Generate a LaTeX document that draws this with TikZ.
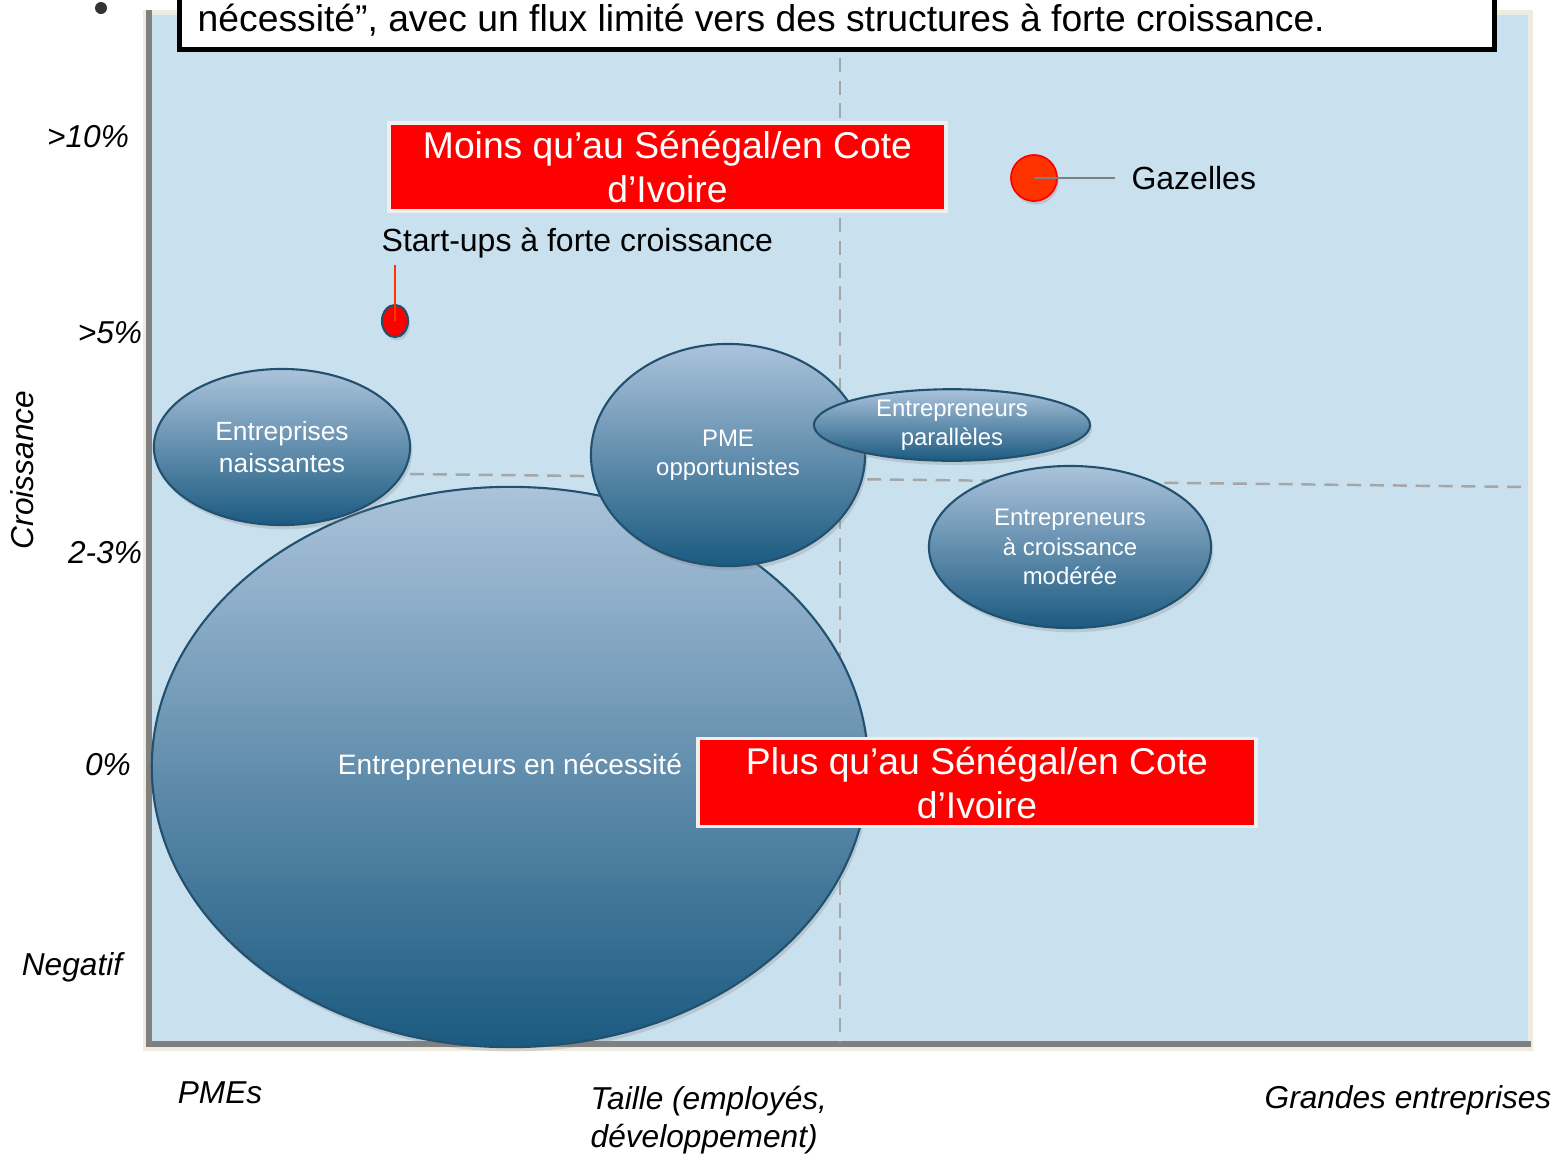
\documentclass[tikz,border=0pt]{standalone}
\usepackage{fontspec}
\setmainfont{Liberation Sans}
\usetikzlibrary{shapes.geometric,shadows,calc}
\definecolor{panelblue}{HTML}{C9E0EE}
\definecolor{panelrim}{HTML}{EEEBE0}
\definecolor{axisgray}{HTML}{808080}
\definecolor{guidegray}{HTML}{A6A6A6}
\definecolor{bubbletop}{HTML}{ABC3DB}
\definecolor{bubblebot}{HTML}{1B5A80}
\definecolor{bubbleedge}{HTML}{22506F}
\definecolor{boxrim}{HTML}{EFEFEF}
\definecolor{gazred}{HTML}{FF3300}
\tikzset{
  bubble/.style={ellipse, draw=bubbleedge, line width=0.6pt, top color=bubbletop,
    bottom color=bubblebot, text=white, align=center, inner sep=0pt,
    drop shadow={opacity=0.25, shadow xshift=0.6pt, shadow yshift=-1.2pt}},
  redbox/.style={rectangle, fill=red, draw=boxrim, line width=1.1pt, text=white,
    align=center, inner sep=0pt, minimum width=5.57cm, minimum height=0.88cm,
    font=\fontsize{10.6}{12.5}\selectfont},
  axislab/.style={font=\fontsize{9}{10.8}\selectfont\itshape},
  guide/.style={draw=guidegray, line width=0.7pt, dash pattern=on 4pt off 2.5pt}
}
\begin{document}
\begin{tikzpicture}[x=0.01cm, y=-0.01cm]
\useasboundingbox (0,0) rectangle (1557,1154);
% panel and axes
\fill[panelrim] (143,10) rectangle (1533,1051);
\fill[panelblue] (152,15) rectangle (1528,1041);
\fill[axisgray] (146,10) rectangle (152,1047);
\fill[axisgray] (146,1041) rectangle (1531,1047);
% quadrant guides
\draw[guide] (840,12) -- (840,1041);
\draw[guide] (410,474) -- (1528,487);
% bubbles
\node[bubble, minimum width=7.16cm, minimum height=5.6cm,
  font=\fontsize{8}{9.6}\selectfont] (nec) at (510,767) {Entrepreneurs en nécessité};
\node[bubble, minimum width=2.56cm, minimum height=1.56cm,
  font=\fontsize{7.5}{9.1}\selectfont] (nais) at (282,447) {Entreprises\\naissantes};
\node[bubble, minimum width=2.74cm, minimum height=2.22cm,
  font=\fontsize{6.8}{8.3}\selectfont] (pme) at (728,455) {PME\\opportunistes};
\node[bubble, minimum width=2.76cm, minimum height=0.66cm,
  font=\fontsize{6.8}{8.3}\selectfont] (para) at (952,425) {Entrepreneurs\\parallèles};
\node[bubble, minimum width=2.82cm, minimum height=1.62cm,
  font=\fontsize{6.8}{8.3}\selectfont] (mod) at (1070,547) {Entrepreneurs\\à croissance\\modérée};
% comparison boxes
\node[redbox] (moins) at (667.5,167) {Moins qu’au Sénégal/en Cote\\d’Ivoire};
\node[redbox] (plus) at (977,782.5) {Plus qu’au Sénégal/en Cote\\d’Ivoire};
% start-ups
\node[ellipse, fill=red, draw=bubbleedge, line width=0.6pt, inner sep=0pt,
  minimum width=0.26cm, minimum height=0.32cm,
  drop shadow={opacity=0.25, shadow xshift=0.5pt, shadow yshift=-1pt}] (sup) at (395,321) {};
\coordinate (suptop) at (395,265);
\draw[gazred, line width=0.6pt] (suptop) -- (sup.center);
\node[anchor=base west, inner sep=0pt, font=\fontsize{9.1}{11}\selectfont]
  (suplab) at (381,251) {Start-ups à forte croissance};
% gazelles
\node[circle, fill=gazred, draw=red, line width=0.5pt, inner sep=0pt, minimum size=0.46cm,
  drop shadow={opacity=0.25, shadow xshift=0.5pt, shadow yshift=-1pt}] (gaz) at (1034,178) {};
\node[anchor=west, inner xsep=4.5pt, font=\fontsize{9.1}{11}\selectfont]
  (gazlab) at (1115,178) {Gazelles};
\draw[axisgray, line width=0.6pt] (gaz.center) -- (gazlab.west);
% title strip
\draw[fill=white, line width=1.4pt] (179.5,-10) rectangle (1494.5,49.5);
\node[anchor=base west, inner sep=0pt, font=\fontsize{10.6}{12.5}\selectfont]
  (head) at (197,31) {nécessité”, avec un flux limité vers des structures à forte croissance.};
\fill[black!80] (101,8) circle (6);
% axis labels
\foreach \lab/\px/\py in {>10\%/88/137, >5\%/110/333, 2-3\%/105/553, 0\%/108/765, Negatif/72/967}
  \node[axislab] at (\px,\py) {\lab};
\node[axislab, rotate=90] (ylab) at (22,470) {Croissance};
\node[axislab] (small) at (220,1093) {PMEs};
\node[axislab, anchor=west, align=left, inner sep=0pt,
  font=\fontsize{9}{10.8}\selectfont\itshape] (xlab) at (590,1120) {Taille (employés,\\développement)};
\node[axislab] (large) at (1408,1100) {Grandes entreprises};
\end{tikzpicture}
\end{document}
